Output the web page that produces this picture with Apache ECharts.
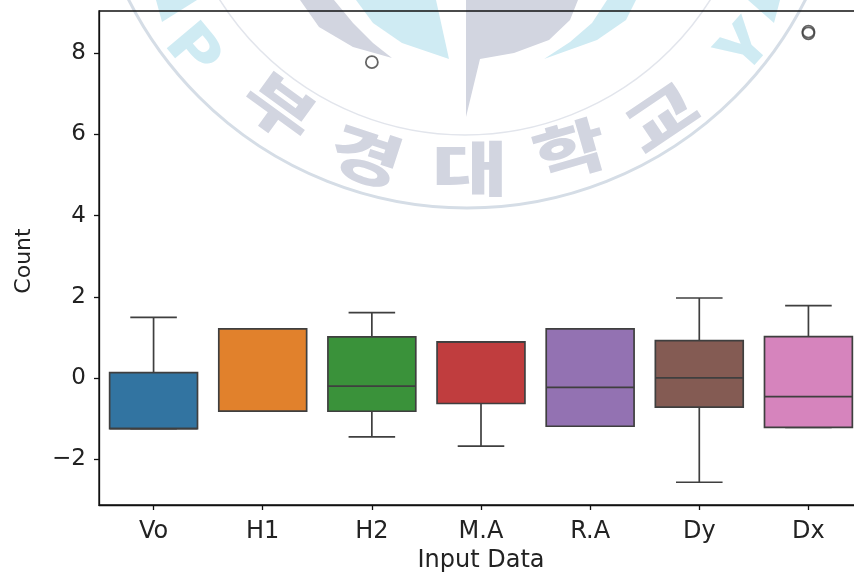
<!DOCTYPE html>
<html><head><meta charset="utf-8">
<style>html,body{margin:0;padding:0;background:#fff}#c{width:854px;height:576px}</style>
<script src="https://cdn.jsdelivr.net/npm/echarts@6/dist/echarts.min.js"></script></head>
<body><div id="c"></div>
<script>
const categories=['Vo','H1','H2','M.A','R.A','Dy','Dx'];
const lowWhisker=[-1.25,-0.82,-1.45,-1.68,-1.19,-2.57,-1.22];
const q1=[-1.25,-0.82,-0.82,-0.63,-1.19,-0.72,-1.22];
const median=[-1.25,-0.82,-0.2,0.89,-0.23,0,-0.46];
const q3=[0.13,1.21,1.01,0.89,1.21,0.92,1.02];
const highWhisker=[1.49,1.21,1.61,0.89,1.21,1.97,1.78];
const colors=['#3274a1','#e1812c','#3a923a','#c03d3e','#9372b2','#845b53','#d684bd'];
const outliers=[['H2',7.78],['Dx',8.49],['Dx',8.53]];
const yTicks=[-2,0,2,4,6,8];

const edge='#3f3f3f', wmGray='#d2d5e0', wmCyan='#cfebf3';
const font='"DejaVu Sans"';
function poly(points,fill){return {type:'polygon',z:-10,shape:{points},style:{fill}};}
function wmText(text,x,y,deg,fill,size,sx,sy){return {type:'text',z:-10,x,y,rotation:deg*Math.PI/180,scaleX:sx||1,scaleY:sy||1,
  style:{text,fill,font:'900 '+size+'px "Noto Sans CJK KR"',align:'center',verticalAlign:'middle'}};}
const watermark=[
 {type:'circle',z:-10,shape:{cx:467,cy:-171,r:379},style:{fill:'none',stroke:'#d5dde6',lineWidth:3}},
 {type:'circle',z:-10,shape:{cx:465,cy:-155,r:290},style:{fill:'none',stroke:'#e2e5ec',lineWidth:1.5}},
 poly([[300,0],[319,27],[353,47],[392,58],[373,43],[353,23],[334,0]],wmGray),
 poly([[356,0],[373,23],[402,43],[449,59],[436,0]],wmCyan),
 poly([[466,0],[578,0],[570,20],[549,40],[514,53],[480,59],[466,117]],wmGray),
 poly([[636,0],[626,20],[597,40],[544,59],[570,42],[592,23],[607,0]],wmCyan),
 poly([[156,0],[197,0],[162,22]],wmCyan),
 poly([[748,0],[780,0],[774,23]],wmCyan),
 wmText('부',280,107,-36,wmGray,66,1.2,.9),
 wmText('경',366,156,-18,wmGray,66,1.2,.9),
 wmText('대',470,168,0,wmGray,66,1.25,.9),
 wmText('학',570,150,16,wmGray,66,1.2,.9),
 wmText('교',661,117,34,wmGray,66,1.2,.9),
 wmText('P',196,48,-50,wmCyan,66,1.1,.9),
 wmText('Y',742,45,48,wmCyan,66,1.1,.9)
];

function renderBox(params,api){
  const i=api.value(0);
  const cx=api.coord([i,0])[0];
  const w=api.size([1,0])[0]*0.805, cap=w*0.53;
  const y=v=>api.coord([i,v])[1];
  const lo=y(api.value(1)),a=y(api.value(2)),m=y(api.value(3)),b=y(api.value(4)),hi=y(api.value(5));
  const ls={stroke:edge,lineWidth:1.7,fill:null};
  const line=(x1,y1,x2,y2)=>({type:'line',shape:{x1,y1,x2,y2},style:ls});
  return {type:'group',children:[
    line(cx,lo,cx,a),line(cx,b,cx,hi),
    line(cx-cap/2,lo,cx+cap/2,lo),line(cx-cap/2,hi,cx+cap/2,hi),
    {type:'rect',shape:{x:cx-w/2,y:b,width:w,height:a-b},style:{fill:colors[i],stroke:edge,lineWidth:1.7}},
    line(cx-w/2,m,cx+w/2,m)
  ]};
}
const chart=echarts.init(document.getElementById('c'),null,{renderer:'canvas'});
chart.setOption({
  animation:false,
  backgroundColor:'#fff',
  graphic:{elements:watermark},
  grid:{left:99,top:11,width:764,height:494,show:true,borderColor:'#111',borderWidth:1.3,backgroundColor:'transparent',containLabel:false,outerBoundsMode:'none'},
  xAxis:{type:'category',data:categories,name:'Input Data',nameLocation:'middle',nameGap:44,
    nameTextStyle:{color:'#222',fontFamily:font,fontSize:24},
    axisLine:{onZero:false,lineStyle:{color:'#111',width:1.3}},
    axisTick:{show:true,alignWithLabel:true,length:5,lineStyle:{color:'#111',width:1.3}},
    axisLabel:{color:'#222',fontFamily:font,fontSize:24,margin:15,interval:0},splitLine:{show:false}},
  yAxis:{type:'value',min:-3.13,max:9.04,name:'Count',nameLocation:'middle',nameGap:64,
    nameTextStyle:{color:'#222',fontFamily:font,fontSize:22,padding:[0,6,0,0]},
    axisLine:{show:true,onZero:false,lineStyle:{color:'#111',width:1.3}},
    axisTick:{show:true,length:5,customValues:yTicks,lineStyle:{color:'#111',width:1.3}},
    axisLabel:{color:'#222',fontFamily:font,fontSize:23,margin:13,padding:[8,0,0,0],customValues:yTicks,
      formatter:v=>String(v).replace('-','\u2212')},
    splitLine:{show:false}},
  series:[
    {type:'custom',renderItem:renderBox,clip:false,
     encode:{x:0,y:[1,2,3,4,5]},
     data:categories.map((c,i)=>[i,lowWhisker[i],q1[i],median[i],q3[i],highWhisker[i]])},
    {type:'scatter',symbol:'circle',symbolSize:12,
     itemStyle:{color:'rgba(255,255,255,0)',borderColor:edge,borderWidth:1.8},
     data:outliers}
  ]
});
</script></body></html>
